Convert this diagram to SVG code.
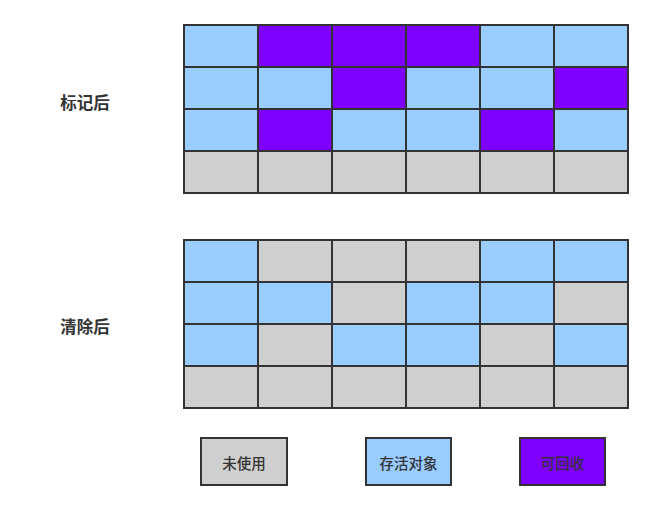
<svg xmlns="http://www.w3.org/2000/svg" width="653" height="510" viewBox="0 0 653 510">
<style>
rect{stroke:#333333;stroke-width:2}
.b{fill:#99CCFF}
.p{fill:#7F00FF}
.g{fill:#CFCFCF}
text{font-family:"Noto Sans CJK SC","Noto Sans",sans-serif;fill:#333333;text-anchor:middle;dominant-baseline:central}
.lbl{font-size:16.5px;font-weight:bold}
.lg{font-size:14.5px;font-weight:500}
</style>
<rect width="653" height="510" fill="#ffffff" style="stroke:none"/>
<g id="label-marked"><text class="lbl" x="85" y="102">标记后</text></g>
<g id="grid-marked">
<rect class="b" x="184" y="25" width="74" height="42"/><rect class="p" x="258" y="25" width="74" height="42"/><rect class="p" x="332" y="25" width="74" height="42"/><rect class="p" x="406" y="25" width="74" height="42"/><rect class="b" x="480" y="25" width="74" height="42"/><rect class="b" x="554" y="25" width="74" height="42"/>
<rect class="b" x="184" y="67" width="74" height="42"/><rect class="b" x="258" y="67" width="74" height="42"/><rect class="p" x="332" y="67" width="74" height="42"/><rect class="b" x="406" y="67" width="74" height="42"/><rect class="b" x="480" y="67" width="74" height="42"/><rect class="p" x="554" y="67" width="74" height="42"/>
<rect class="b" x="184" y="109" width="74" height="42"/><rect class="p" x="258" y="109" width="74" height="42"/><rect class="b" x="332" y="109" width="74" height="42"/><rect class="b" x="406" y="109" width="74" height="42"/><rect class="p" x="480" y="109" width="74" height="42"/><rect class="b" x="554" y="109" width="74" height="42"/>
<rect class="g" x="184" y="151" width="74" height="42"/><rect class="g" x="258" y="151" width="74" height="42"/><rect class="g" x="332" y="151" width="74" height="42"/><rect class="g" x="406" y="151" width="74" height="42"/><rect class="g" x="480" y="151" width="74" height="42"/><rect class="g" x="554" y="151" width="74" height="42"/>
</g>
<g id="label-cleared"><text class="lbl" x="85" y="326">清除后</text></g>
<g id="grid-cleared">
<rect class="b" x="184" y="240" width="74" height="42"/><rect class="g" x="258" y="240" width="74" height="42"/><rect class="g" x="332" y="240" width="74" height="42"/><rect class="g" x="406" y="240" width="74" height="42"/><rect class="b" x="480" y="240" width="74" height="42"/><rect class="b" x="554" y="240" width="74" height="42"/>
<rect class="b" x="184" y="282" width="74" height="42"/><rect class="b" x="258" y="282" width="74" height="42"/><rect class="g" x="332" y="282" width="74" height="42"/><rect class="b" x="406" y="282" width="74" height="42"/><rect class="b" x="480" y="282" width="74" height="42"/><rect class="g" x="554" y="282" width="74" height="42"/>
<rect class="b" x="184" y="324" width="74" height="42"/><rect class="g" x="258" y="324" width="74" height="42"/><rect class="b" x="332" y="324" width="74" height="42"/><rect class="b" x="406" y="324" width="74" height="42"/><rect class="g" x="480" y="324" width="74" height="42"/><rect class="b" x="554" y="324" width="74" height="42"/>
<rect class="g" x="184" y="366" width="74" height="42"/><rect class="g" x="258" y="366" width="74" height="42"/><rect class="g" x="332" y="366" width="74" height="42"/><rect class="g" x="406" y="366" width="74" height="42"/><rect class="g" x="480" y="366" width="74" height="42"/><rect class="g" x="554" y="366" width="74" height="42"/>
</g>
<g id="legend-unused"><rect class="g" x="201" y="438" width="86" height="47"/><text class="lg" x="244" y="462">未使用</text></g>
<g id="legend-alive"><rect class="b" x="366" y="438" width="85" height="47"/><text class="lg" x="408.5" y="462">存活对象</text></g>
<g id="legend-reclaim"><rect class="p" x="520" y="438" width="85" height="47"/><text class="lg" x="562.5" y="462">可回收</text></g>
<g id="connectors"></g>
</svg>
